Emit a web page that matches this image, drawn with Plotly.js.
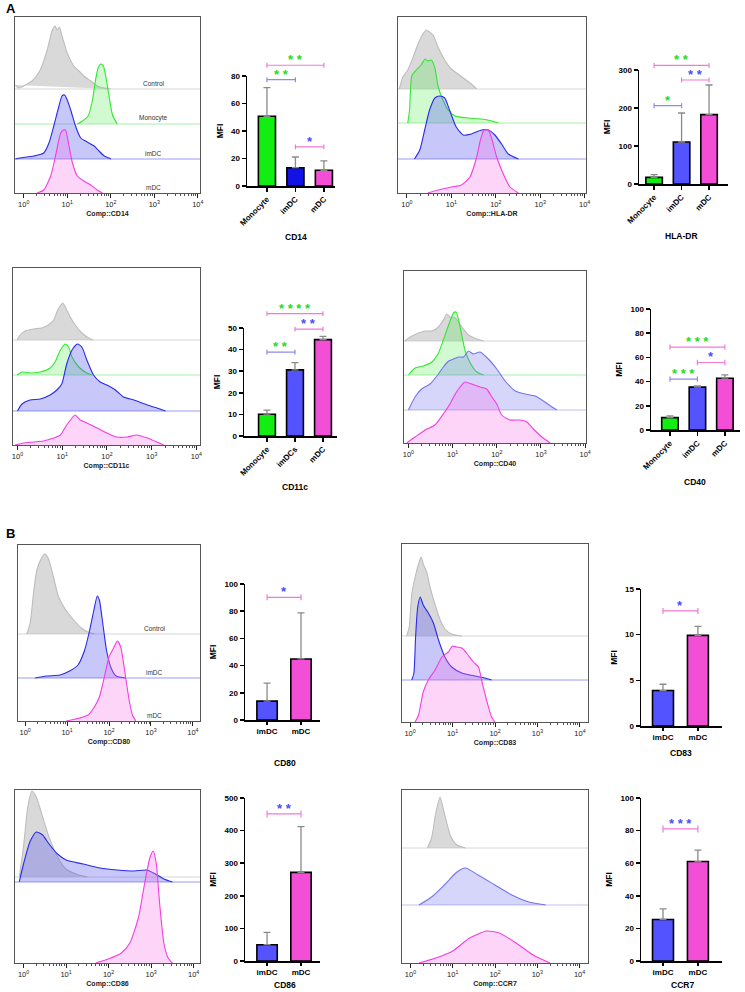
<!DOCTYPE html>
<html>
<head>
<meta charset="utf-8">
<script src="https://cdn.plot.ly/plotly-3.0.1.min.js"></script>
<style>
  html, body { margin: 0; padding: 0; background: #fff; }
  #fig { width: 745px; height: 992px; }
</style>
</head>
<body>
<div id="fig"></div>
<script>
// ============================================================
// Flow cytometry overlays + MFI bar charts (panels A and B)
// ============================================================

// ---- histogram curves: [log10 intensity, height above own baseline] ----
const cd14Control = [[-0.19,4],[-0.12,1],[0.19,8],[0.38,19],[0.54,39],[0.65,58],[0.72,63],[0.77,59],[0.82,62],[0.88,53],[1.0,36],[1.15,23],[1.27,18],[1.38,13],[1.54,8],[1.69,3],[1.85,1],[2.0,0]];
const cd14Mono = [[1.23,0],[1.35,3],[1.48,8],[1.58,24],[1.65,44],[1.71,56],[1.77,60],[1.83,58],[1.88,49],[1.96,28],[2.04,9],[2.15,0]];
const cd14Imdc = [[-0.19,0],[-0.08,1],[0.23,3],[0.46,6],[0.58,16],[0.69,33],[0.81,53],[0.88,63],[0.94,64],[1.0,59],[1.08,49],[1.19,33],[1.31,21],[1.42,18],[1.5,16],[1.62,13],[1.73,8],[1.85,3],[1.96,1],[2.0,0]];
const cd14Mdc = [[0.31,0],[0.46,3],[0.62,17],[0.73,37],[0.85,60],[0.91,63],[0.96,63],[1.04,47],[1.12,30],[1.23,17],[1.38,12],[1.54,8],[1.69,3],[1.81,0]];

const hlaControl = [[-0.17,0],[-0.09,12],[0.02,19],[0.14,32],[0.25,45],[0.36,55],[0.44,59],[0.51,57],[0.59,54],[0.7,42],[0.85,29],[1.0,20],[1.15,15],[1.3,10],[1.45,5],[1.57,0]];
const hlaMono = [[0.02,0],[0.06,13],[0.11,47],[0.21,53],[0.32,58],[0.41,64],[0.47,62],[0.55,63],[0.63,55],[0.7,37],[0.81,23],[0.93,13],[1.08,7],[1.38,5],[1.68,4],[1.91,2],[2.06,0]];
const hlaImdc = [[0.17,0],[0.29,9],[0.4,29],[0.51,49],[0.63,61],[0.74,63],[0.85,61],[0.96,49],[1.11,32],[1.27,24],[1.45,25],[1.68,29],[1.83,29],[1.98,24],[2.13,15],[2.28,5],[2.51,0]];
const hlaMdc = [[0.47,0],[0.7,3],[1.0,6],[1.23,8],[1.42,16],[1.57,36],[1.66,54],[1.74,63],[1.83,63],[1.91,54],[2.02,36],[2.17,19],[2.32,6],[2.51,0]];

const cd11cControl = [[-0.01,0],[0.06,5],[0.17,9],[0.36,11],[0.54,12],[0.69,15],[0.81,20],[0.9,30],[0.97,35],[1.01,37],[1.07,33],[1.18,23],[1.29,15],[1.44,7],[1.63,1],[1.7,0]];
const cd11cMono = [[-0.01,0],[0.06,2],[0.13,3],[0.28,2],[0.51,3],[0.73,7],[0.84,13],[0.96,25],[1.07,31],[1.14,28],[1.22,18],[1.37,8],[1.55,2],[1.66,0]];
const cd11cImdc = [[0.0,0],[0.1,7],[0.28,11],[0.51,12],[0.73,16],[0.88,21],[0.99,27],[1.1,47],[1.22,61],[1.34,67],[1.44,64],[1.55,51],[1.7,36],[1.85,29],[2.0,26],[2.19,21],[2.37,14],[2.6,11],[2.9,6],[3.12,3],[3.31,0]];
const cd11cMdc = [[-0.05,0],[0.13,2],[0.36,3],[0.58,4],[0.81,7],[0.96,10],[1.1,20],[1.22,27],[1.29,30],[1.4,25],[1.55,22],[1.78,17],[2.0,12],[2.22,8],[2.45,8],[2.67,10],[2.9,7],[3.12,3],[3.27,0]];

const cd40Control = [[-0.08,0],[0.04,4],[0.23,8],[0.38,10],[0.53,10],[0.68,14],[0.79,21],[0.87,27],[0.94,24],[1.06,23],[1.21,14],[1.36,6],[1.55,2],[1.7,0]];
const cd40Mono = [[0.0,0],[0.15,7],[0.34,9],[0.53,13],[0.68,22],[0.79,35],[0.91,50],[1.02,62],[1.08,63],[1.17,48],[1.28,25],[1.4,12],[1.55,3],[1.7,0]];
const cd40Imdc = [[0.0,0],[0.15,13],[0.3,21],[0.49,26],[0.68,36],[0.79,43],[0.91,49],[1.02,51],[1.13,53],[1.25,53],[1.36,59],[1.47,56],[1.62,58],[1.81,51],[2.0,41],[2.19,29],[2.42,19],[2.64,16],[2.87,14],[3.09,8],[3.25,3],[3.36,0]];
const cd40Mdc = [[-0.04,0],[0.15,6],[0.38,13],[0.6,18],[0.79,29],[0.94,39],[1.06,49],[1.17,56],[1.28,61],[1.43,59],[1.62,56],[1.77,54],[1.89,46],[2.0,39],[2.11,28],[2.3,23],[2.53,23],[2.68,21],[2.83,14],[3.02,6],[3.21,0]];

const cd80Control = [[0.04,0],[0.12,11],[0.2,41],[0.28,64],[0.39,76],[0.47,80],[0.55,76],[0.67,58],[0.79,38],[0.91,28],[1.02,21],[1.18,13],[1.34,6],[1.5,2],[1.65,0]];
const cd80Imdc = [[0.24,0],[0.51,2],[0.83,3],[1.06,7],[1.26,13],[1.42,28],[1.54,48],[1.64,68],[1.72,82],[1.77,78],[1.85,55],[1.94,28],[2.05,10],[2.17,2],[2.4,0]];
const cd80Mdc = [[0.98,0],[1.3,3],[1.5,6],[1.65,14],[1.77,24],[1.89,44],[2.0,64],[2.11,73],[2.2,80],[2.28,74],[2.36,54],[2.48,21],[2.56,6],[2.64,0]];

const cd83Control = [[-0.08,0],[-0.02,9],[0.04,42],[0.12,59],[0.2,72],[0.26,79],[0.31,72],[0.39,64],[0.47,49],[0.59,31],[0.71,16],[0.82,7],[0.98,2],[1.22,0]];
const cd83Imdc = [[0.04,0],[0.09,7],[0.13,43],[0.18,73],[0.24,83],[0.31,75],[0.43,67],[0.55,57],[0.67,40],[0.82,23],[0.98,13],[1.22,7],[1.53,4],[1.76,2],[1.92,0]];
const cd83Mdc = [[0.12,0],[0.2,7],[0.31,30],[0.43,42],[0.59,52],[0.75,65],[0.9,70],[1.0,76],[1.1,75],[1.22,74],[1.33,69],[1.49,60],[1.61,55],[1.7,39],[1.8,22],[1.92,5],[2.0,0]];

const cd86Control = [[-0.1,0],[0.0,30],[0.1,70],[0.2,86],[0.3,80],[0.45,60],[0.6,40],[0.8,20],[1.0,8],[1.3,2],[1.5,0]];
const cd86Imdc = [[-0.1,0],[0.0,18],[0.15,40],[0.3,50],[0.45,47],[0.6,38],[0.8,28],[1.0,22],[1.4,18],[1.8,14],[2.2,12],[2.6,11],[2.9,12],[3.1,8],[3.3,3],[3.5,0]];
const cd86Mdc = [[1.7,0],[2.0,4],[2.3,10],[2.5,20],[2.7,45],[2.85,80],[2.97,105],[3.05,112],[3.12,100],[3.2,60],[3.3,20],[3.4,5],[3.5,0]];

const ccr7Control = [[0.4,0],[0.5,10],[0.6,35],[0.7,51],[0.8,35],[0.95,12],[1.1,3],[1.3,0]];
const ccr7Imdc = [[0.2,0],[0.5,8],[0.8,20],[1.1,33],[1.3,37],[1.6,30],[2.0,20],[2.4,10],[2.8,3],[3.2,0]];
const ccr7Mdc = [[0.2,0],[0.6,5],[1.0,12],[1.4,25],[1.8,32],[2.1,30],[2.5,20],[2.9,8],[3.3,0]];

// ---- bar chart values (mean MFI and top of error bar) ----
const cd14Groups = ["Monocyte", "imDC", "mDC"];
const cd14Mean = [50.7, 13.3, 11.4];
const cd14Upper = [71.5, 21.1, 18.2];
const cd14SigPairs = [[0, 1], [0, 2], [1, 2]];
const cd14SigY = [77.3, 87.8, 28.4];
const cd14SigText = ["**", "**", "*"];

const hlaGroups = ["Monocyte", "imDC", "mDC"];
const hlaMean = [17.5, 110.5, 182.5];
const hlaUpper = [24.5, 186.8, 260.5];
const hlaSigPairs = [[0, 1], [0, 2], [1, 2]];
const hlaSigY = [206, 312, 273.7];
const hlaSigText = ["*", "**", "**"];

const cd11cGroups = ["Monocyte", "imDCs", "mDC"];
const cd11cMean = [10.1, 30.6, 44.6];
const cd11cUpper = [12, 34, 46.1];
const cd11cSigPairs = [[0, 1], [0, 2], [1, 2]];
const cd11cSigY = [38.8, 56.7, 49.5];
const cd11cSigText = ["**", "****", "**"];

const cd40Groups = ["Monocyte", "imDC", "mDC"];
const cd40Mean = [10.2, 35.4, 42.8];
const cd40Upper = [11.6, 36.5, 45.6];
const cd40SigPairs = [[0, 1], [0, 2], [1, 2]];
const cd40SigY = [42, 68.5, 55.8];
const cd40SigText = ["***", "***", "*"];

const cd80Groups = ["imDC", "mDC"];
const cd80Mean = [13.9, 44.9];
const cd80Upper = [27.1, 78.8];
const cd80SigPairs = [[0, 1]];
const cd80SigY = [90.2];
const cd80SigText = ["*"];

const cd83Groups = ["imDC", "mDC"];
const cd83Mean = [3.88, 9.92];
const cd83Upper = [4.57, 10.9];
const cd83SigPairs = [[0, 1]];
const cd83SigY = [12.6];
const cd83SigText = ["*"];

const cd86Groups = ["imDC", "mDC"];
const cd86Mean = [50, 272];
const cd86Upper = [88, 412];
const cd86SigPairs = [[0, 1]];
const cd86SigY = [451];
const cd86SigText = ["**"];

const ccr7Groups = ["imDC", "mDC"];
const ccr7Mean = [25.5, 61];
const ccr7Upper = [32, 68];
const ccr7SigPairs = [[0, 1]];
const ccr7SigY = [81];
const ccr7SigText = ["***"];

// ---- styling ----
const W = 745, H = 992;
const FONT = "Liberation Sans, Arial, sans-serif";
const POP = {
  Control:  { line: "#bdbdbd", fill: "rgba(186,186,186,0.55)", base: "#d6d6d6" },
  Monocyte: { line: "#33e633", fill: "rgba(70,235,70,0.25)",   base: "#a8f0a8" },
  imDC:     { line: "#2b2be8", fill: "rgba(95,95,240,0.35)",   base: "#9c9cf4" },
  imDCl:    { line: "#7474ee", fill: "rgba(120,120,240,0.30)", base: "#c0c0f2" },
  mDC:      { line: "#f23ee0", fill: "rgba(250,115,235,0.30)", base: "#f7a8ee" },
};
const BAR_COL = { Monocyte: "#12ee12", imDC: "#5353ff", imDCs: "#5353ff", mDC: "#f34fd6" };
const STAR_COL = { Monocyte: "#22dd22", imDC: "#4b4bff", imDCs: "#4b4bff" };
const BRACKET_COL = { imDC: "#8a8af0", imDCs: "#8a8af0", mDC: "#f07ad8" };

function xd(a, b) { return [a / W, b / W]; }
function yd(top, bottom) { return [1 - bottom / H, 1 - top / H]; }

const HIST = [
  { title: "Comp::CD14", box: [15, 17, 200, 193], xr: [-0.2, 4.05], base: [104, 69, 34, 0],
    pops: ["Control", "Monocyte", "imDC", "mDC"], curves: [cd14Control, cd14Mono, cd14Imdc, cd14Mdc], labels: true },
  { title: "Comp::HLA-DR", box: [398, 17, 586, 193], xr: [-0.2, 4.03], base: [104, 70, 34, 0],
    pops: ["Control", "Monocyte", "imDC", "mDC"], curves: [hlaControl, hlaMono, hlaImdc, hlaMdc] },
  { title: "Comp::CD11c", box: [13, 268, 200, 445], xr: [-0.1, 4.08], base: [105, 70, 34, 0],
    pops: ["Control", "Monocyte", "imDC", "mDC"], curves: [cd11cControl, cd11cMono, cd11cImdc, cd11cMdc] },
  { title: "Comp::CD40", box: [404, 271, 586, 443], xr: [-0.1, 4.02], base: [102, 68, 33, 0],
    pops: ["Control", "Monocyte", "imDCl", "mDC"], curves: [cd40Control, cd40Mono, cd40Imdc, cd40Mdc] },
  { title: "Comp::CD80", box: [18, 545, 200, 721], xr: [-0.17, 4.17], base: [87, 43, 0],
    pops: ["Control", "imDC", "mDC"], curves: [cd80Control, cd80Imdc, cd80Mdc], labels: true },
  { title: "Comp::CD83", box: [402, 544, 588, 722], xr: [-0.19, 4.19], base: [86, 42, 0],
    pops: ["Control", "imDC", "mDC"], curves: [cd83Control, cd83Imdc, cd83Mdc] },
  { title: "Comp::CD86", box: [15, 790, 200, 963], xr: [-0.2, 4.15], base: [86, 81, 0],
    pops: ["Control", "imDC", "mDC"], curves: [cd86Control, cd86Imdc, cd86Mdc] },
  { title: "Comp::CCR7", box: [402, 790, 588, 963], xr: [-0.2, 4.2], base: [115, 58, 0],
    pops: ["Control", "imDCl", "mDC"], curves: [ccr7Control, ccr7Imdc, ccr7Mdc] },
];

const BARS = [
  { title: "CD14", groups: cd14Groups, mean: cd14Mean, upper: cd14Upper, pairs: cd14SigPairs, sigY: cd14SigY, sigText: cd14SigText,
    top: 80, dtick: 20, box: [247, 76, 335, 186], xr: [-0.7, 2.39], at: [296, 237], angle: -45, dark: true },
  { title: "HLA-DR", groups: hlaGroups, mean: hlaMean, upper: hlaUpper, pairs: hlaSigPairs, sigY: hlaSigY, sigText: hlaSigText,
    top: 300, dtick: 100, box: [639, 70, 728, 184], xr: [-0.55, 2.69], at: [681, 236], angle: -45 },
  { title: "CD11c", groups: cd11cGroups, mean: cd11cMean, upper: cd11cUpper, pairs: cd11cSigPairs, sigY: cd11cSigY, sigText: cd11cSigText,
    top: 50, dtick: 10, box: [244, 328, 337, 436], xr: [-0.82, 2.5], at: [295, 487], angle: -45 },
  { title: "CD40", groups: cd40Groups, mean: cd40Mean, upper: cd40Upper, pairs: cd40SigPairs, sigY: cd40SigY, sigText: cd40SigText,
    top: 100, dtick: 20, box: [651, 309, 740, 430], xr: [-0.69, 2.55], at: [695, 482], angle: -45 },
  { title: "CD80", groups: cd80Groups, mean: cd80Mean, upper: cd80Upper, pairs: cd80SigPairs, sigY: cd80SigY, sigText: cd80SigText,
    top: 100, dtick: 20, box: [245, 584, 320, 720], xr: [-0.65, 1.56], at: [285, 763], angle: 0 },
  { title: "CD83", groups: cd83Groups, mean: cd83Mean, upper: cd83Upper, pairs: cd83SigPairs, sigY: cd83SigY, sigText: cd83SigText,
    top: 15, dtick: 5, box: [641, 589, 722, 726], xr: [-0.63, 1.69], at: [681, 753], angle: 0 },
  { title: "CD86", groups: cd86Groups, mean: cd86Mean, upper: cd86Upper, pairs: cd86SigPairs, sigY: cd86SigY, sigText: cd86SigText,
    top: 500, dtick: 100, box: [245, 798, 320, 961], xr: [-0.65, 1.56], at: [285, 985], angle: 0 },
  { title: "CCR7", groups: ccr7Groups, mean: ccr7Mean, upper: ccr7Upper, pairs: ccr7SigPairs, sigY: ccr7SigY, sigText: ccr7SigText,
    top: 100, dtick: 20, box: [641, 798, 722, 961], xr: [-0.63, 1.69], at: [682, 985], angle: 0 },
];

const traces = [];
const layout = {
  width: W, height: H, margin: { l: 0, r: 0, t: 0, b: 0 },
  paper_bgcolor: "#fff", plot_bgcolor: "rgba(0,0,0,0)",
  showlegend: false, font: { family: FONT, color: "#000" },
  annotations: [], shapes: [],
};

const minorVals = [];
for (let d = 0; d < 4; d++) for (let m = 2; m < 10; m++) minorVals.push(m * Math.pow(10, d));

// ---- histogram panels ----
HIST.forEach((p, k) => {
  const n = 2 * k + 1;
  const hY = p.box[3] - p.box[1];
  layout["xaxis" + n] = {
    type: "log", domain: xd(p.box[0], p.box[2]), range: p.xr, anchor: "y" + n,
    tickvals: [1, 10, 100, 1000, 10000],
    ticktext: ["10<sup>0</sup>", "10<sup>1</sup>", "10<sup>2</sup>", "10<sup>3</sup>", "10<sup>4</sup>"],
    ticks: "outside", ticklen: 4, tickwidth: 1, tickcolor: "#222",
    minor: { tickvals: minorVals, ticks: "outside", ticklen: 2, tickcolor: "#222", tickwidth: 0.8 },
    showline: true, mirror: true, linecolor: "#555", linewidth: 1,
    showgrid: false, zeroline: false,
    tickfont: { size: 7.5, color: "#222" },
    title: { text: p.title, font: { size: 7, weight: "bold", color: "#222" }, standoff: 3 },
  };
  layout["yaxis" + n] = {
    domain: yd(p.box[1], p.box[3]), range: [0, hY], anchor: "x" + n,
    showticklabels: false, ticks: "", showline: true, mirror: true, linecolor: "#555", linewidth: 1,
    showgrid: false, zeroline: false,
  };
  p.curves.forEach((c, j) => {
    const st = POP[p.pops[j]], b = p.base[j];
    if (b > 0) {
      traces.push({ type: "scatter", mode: "lines", xaxis: "x" + n, yaxis: "y" + n, hoverinfo: "skip",
        x: [Math.pow(10, p.xr[0]), Math.pow(10, p.xr[1])], y: [b, b], line: { color: st.base, width: 1 } });
    }
  });
  p.curves.forEach((c, j) => {
    const st = POP[p.pops[j]], b = p.base[j];
    traces.push({ type: "scatter", mode: "lines", xaxis: "x" + n, yaxis: "y" + n, hoverinfo: "skip",
      x: c.map((q) => Math.pow(10, q[0])), y: c.map((q) => b + q[1]),
      fill: "toself", fillcolor: st.fill, line: { color: st.line, width: 1.1, shape: "spline", smoothing: 0.6 } });
    if (p.labels) {
      layout.annotations.push({ xref: "x" + n + " domain", yref: "y" + n, x: 0.75, y: b, xanchor: "center", yanchor: "bottom",
        text: p.pops[j] === "imDCl" ? "imDC" : p.pops[j], showarrow: false, font: { size: 6.5, color: "#333" } });
    }
  });
});

// ---- bar panels ----
BARS.forEach((p, k) => {
  const n = 2 * k + 2, ext = 17 + k;
  const idx = p.groups.map((_, i) => i);
  const dom = yd(p.box[1], p.box[3]);
  const extTop = Math.min(1, dom[0] + (dom[1] - dom[0]) * 1.45);
  const tickv = [];
  for (let v = 0; v <= p.top + 1e-9; v += p.dtick) tickv.push(v);
  layout["xaxis" + n] = {
    domain: xd(p.box[0], p.box[2]), range: p.xr, anchor: "y" + n,
    tickvals: idx, ticktext: p.groups, tickangle: p.angle,
    ticks: "outside", ticklen: p.angle ? 4 : 3, tickwidth: 1.5, tickcolor: "#000",
    showline: true, linecolor: "#000", linewidth: 1.5, showgrid: false, zeroline: false,
    tickfont: { size: 8, weight: "bold", color: "#000" },
  };
  layout["yaxis" + n] = {
    domain: dom, range: [0, p.top], anchor: "x" + n, tickvals: tickv,
    ticks: "outside", ticklen: 4, tickwidth: 1.5, tickcolor: "#000",
    showline: true, linecolor: "#000", linewidth: 1.5, showgrid: false, zeroline: false,
    tickfont: { size: 8, weight: "bold", color: "#000" },
    title: { text: "MFI", font: { size: 8.5, weight: "bold" }, standoff: 6 },
  };
  layout["yaxis" + ext] = {
    domain: [dom[0], extTop], range: [0, p.top * (extTop - dom[0]) / (dom[1] - dom[0])],
    anchor: "x" + n, visible: false, showgrid: false, zeroline: false,
  };
  const cols = p.groups.map((g) => (p.dark && g === "imDC") ? "#1212e6" : BAR_COL[g]);
  traces.push({
    type: "bar", xaxis: "x" + n, yaxis: "y" + n, x: idx, y: p.mean, width: 0.6,
    marker: { color: cols, line: { color: "#000", width: 1.6 } },
    error_y: { type: "data", symmetric: false, array: p.upper.map((u, i) => u - p.mean[i]),
      arrayminus: p.mean.map(() => 0), color: "#8a8a8a", thickness: 1.3, width: 3.5 },
    hoverinfo: "skip",
  });
  const cap = p.top * 0.022;
  p.pairs.forEach((pr, s) => {
    const y = p.sigY[s];
    traces.push({ type: "scatter", mode: "lines", xaxis: "x" + n, yaxis: "y" + ext, hoverinfo: "skip",
      x: [pr[0], pr[0], null, pr[0], pr[1], null, pr[1], pr[1]],
      y: [y - cap, y + cap, null, y, y, null, y - cap, y + cap],
      line: { color: BRACKET_COL[p.groups[pr[1]]], width: 1.2 } });
    layout.annotations.push({ xref: "x" + n, yref: "y" + ext, x: (pr[0] + pr[1]) / 2, y: y, yanchor: "bottom",
      yshift: -4, text: p.sigText[s].split("").join(" "), showarrow: false,
      font: { size: 13, weight: "bold", color: STAR_COL[p.groups[pr[0]]] } });
  });
  layout.annotations.push({ xref: "paper", yref: "paper", x: p.at[0] / W, y: 1 - p.at[1] / H,
    xanchor: "center", yanchor: "middle",
    text: p.title, showarrow: false, font: { size: 8.5, weight: "bold" } });
});

// panel letters
layout.annotations.push({ xref: "paper", yref: "paper", x: 4 / W, y: 1 - 9 / H, xanchor: "left", yanchor: "middle",
  text: "A", showarrow: false, font: { size: 13, weight: "bold" } });
layout.annotations.push({ xref: "paper", yref: "paper", x: 4 / W, y: 1 - 533 / H, xanchor: "left", yanchor: "middle",
  text: "B", showarrow: false, font: { size: 13, weight: "bold" } });

Plotly.newPlot("fig", traces, layout, { staticPlot: true, displayModeBar: false });
</script>
</body>
</html>
